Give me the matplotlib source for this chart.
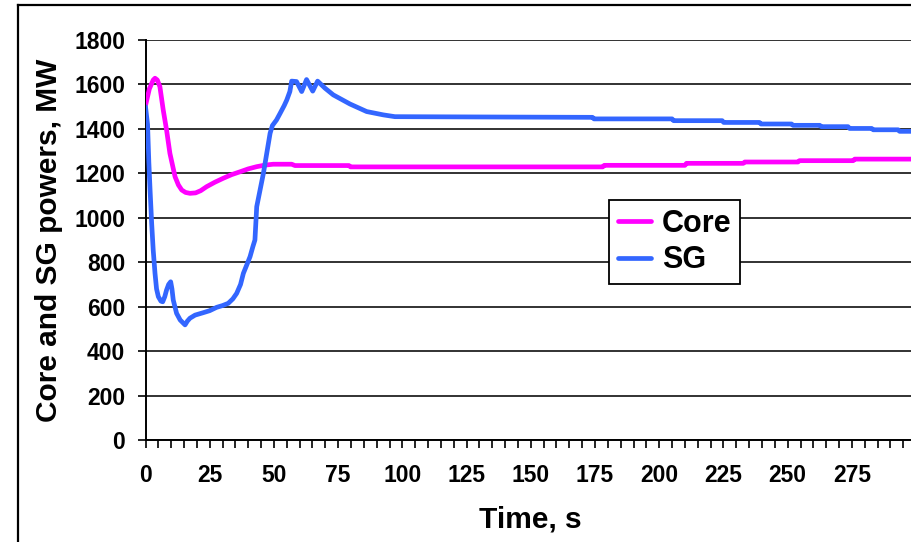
import matplotlib
matplotlib.use("Agg")
import matplotlib.pyplot as plt
from matplotlib.ticker import MultipleLocator
from matplotlib.lines import Line2D

plt.rcParams['font.family'] = ['Liberation Sans', 'DejaVu Sans']
plt.rcParams['font.weight'] = 'bold'

# core power, MW
core_t = [0, 1.5, 3, 3.7, 4.6, 5.6, 6.9, 8.2, 9.5, 11.5, 12.8, 14.1, 15.6, 17.3, 19.5,
          21.5, 23.8, 27, 30.3, 33.5, 36.8, 40, 43.3, 46.5, 49.7, 56.9, 58.2, 79.2,
          79.8, 178, 178.6, 210, 210.6, 232.7, 233.3, 254, 254.6, 275.5, 276.1, 300]
core_p = [1505, 1580, 1620, 1628, 1620, 1590, 1485, 1395, 1290, 1185, 1148, 1125, 1114, 1110, 1112,
          1122, 1140, 1160, 1178, 1194, 1207, 1220, 1230, 1237, 1241, 1241, 1235, 1235,
          1229, 1229, 1236, 1236, 1245, 1245, 1251, 1251, 1257, 1257, 1264, 1264]

# steam generator power, MW
sg_t = [0, 0.8, 1.3, 1.8, 2.4, 3.0, 3.7, 4.3, 5.0, 6.0, 6.7, 7.5, 8.2, 9.0, 9.8, 10.3,
        10.8, 12.1, 13.5, 15.4, 16.3, 17.3, 19.3, 22.5, 25, 27.7, 30, 32.2, 34, 35.5,
        37, 38.1, 39.5, 40.7, 41.8, 42.6, 43.3, 44.6, 45.9, 47.2, 48.5, 49.4, 51, 52.4,
        54, 55, 56.2, 56.9, 58.8, 60.8, 62.7, 65.1, 67.0, 69.9, 73.1, 79.6, 86.1, 92.6,
        97.1, 174, 174.6, 205, 205.6, 224.5, 225.1, 239, 239.6, 251.5, 252.1, 262.5,
        263.1, 273.5, 274.1, 282.7, 283.3, 293, 293.6, 300]
sg_p = [1500, 1420, 1250, 1120, 975, 855, 750, 680, 645, 625, 622, 645, 675, 700, 712, 680,
        630, 570, 540, 518, 535, 548, 562, 573, 582, 597, 605, 615, 635, 660,
        700, 750, 790, 825, 870, 900, 1050, 1125, 1200, 1290, 1380, 1415, 1440, 1470,
        1505, 1530, 1568, 1615, 1613, 1568, 1622, 1570, 1615, 1583, 1553, 1512, 1478, 1463,
        1455, 1452, 1445, 1445, 1437, 1437, 1429, 1429, 1422, 1422, 1416, 1416,
        1410, 1410, 1402, 1402, 1396, 1396, 1389, 1389]

fig = plt.figure(figsize=(9.12, 5.42), dpi=100)
ax = fig.add_axes([145.5 / 912, 1 - 440 / 542, 1 - 145.5 / 912, 400 / 542])

ax.plot(core_t, core_p, color='#FF00FF', lw=3.4, solid_capstyle='round', label='Core', zorder=3)
ax.plot(sg_t, sg_p, color='#3366FF', lw=3.4, solid_capstyle='round', label='SG', zorder=3)

ax.set_xlim(0, 298.4)
ax.set_ylim(0, 1800)
ax.xaxis.set_major_locator(MultipleLocator(25))
ax.xaxis.set_minor_locator(MultipleLocator(5))
ax.yaxis.set_major_locator(MultipleLocator(200))

ax.yaxis.grid(True, color='#222222', lw=1.3)
ax.set_axisbelow(True)
for s in ['top', 'right']:
    ax.spines[s].set_visible(False)
for s in ['left', 'bottom']:
    ax.spines[s].set_color('black')
    ax.spines[s].set_linewidth(1.4)

ax.tick_params(axis='both', which='both', direction='out', length=5.5, width=1.2, color='black')
ax.tick_params(axis='x', which='major', labelsize=16.5, pad=12)
ax.tick_params(axis='y', which='major', labelsize=16.5, pad=9)
for lab in ax.get_xticklabels() + ax.get_yticklabels():
    lab.set_fontweight('bold')

fig.text(530 / 912, 1 - 527 / 542, 'Time, s', ha='center', va='baseline',
         fontsize=21.5, fontweight='bold')
fig.text(57 / 912, 1 - 240 / 542, 'Core and SG powers, MW', ha='center', va='baseline',
         rotation=90, rotation_mode='anchor', fontsize=21.5, fontweight='bold')

leg = ax.legend(loc='upper left', bbox_to_anchor=(609 / 912, 1 - 200 / 542),
                bbox_transform=fig.transFigure, borderaxespad=0, fancybox=False,
                framealpha=1, edgecolor='black', handlelength=1.1, handletextpad=0.35,
                labelspacing=0.22, borderpad=0.28, prop={'size': 22, 'weight': 'bold'})
leg.get_frame().set_linewidth(1.3)
for h in leg.get_lines():
    h.set_linewidth(3.4)

# outer chart border
fig.add_artist(Line2D([18 / 912, 18 / 912], [0, 1 - 5 / 542], color='black', lw=1.6,
                      transform=fig.transFigure))
fig.add_artist(Line2D([18 / 912, 1], [1 - 5 / 542, 1 - 5 / 542], color='black', lw=1.6,
                      transform=fig.transFigure))

fig.savefig('out.png', dpi=100)
